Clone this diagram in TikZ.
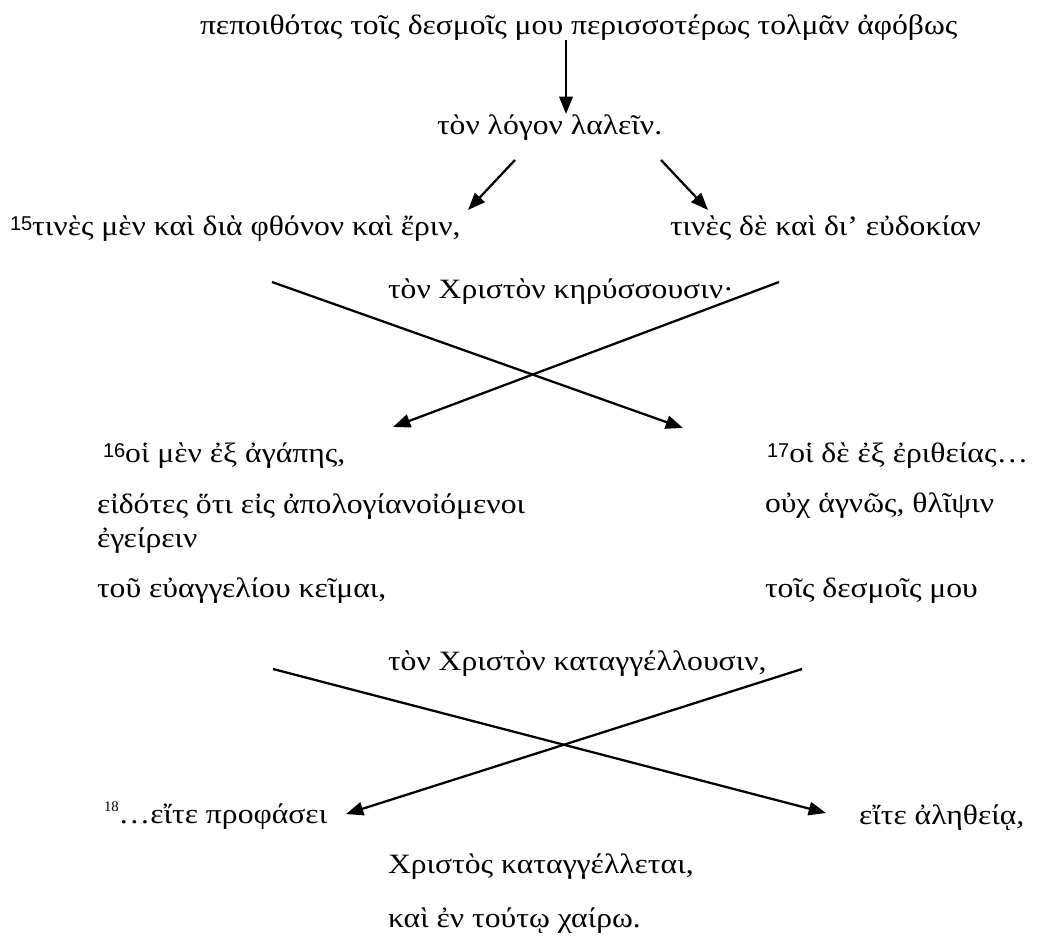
\documentclass[tikz,border=0pt]{standalone}
\usepackage{fontspec}
\setmainfont{Liberation Serif}[FakeStretch=1.13]
\newfontfamily\supsans{Liberation Sans}
\newfontfamily\supserif{Liberation Serif}
\usetikzlibrary{arrows.meta}
\tikzset{
  txt/.style={anchor=base west, inner sep=0pt, outer sep=0pt, font=\fontsize{21}{24}\selectfont},
  arr/.style={line width=1.7pt, -{Triangle[length=13pt,width=10pt]}},
}
\newcommand{\vs}[1]{\raisebox{3.75pt}{\supsans\fontsize{15}{16}\selectfont #1}}
\newcommand{\vsr}[1]{\raisebox{9pt}{\supserif\fontsize{11}{12}\selectfont #1}}
\begin{document}
\begin{tikzpicture}[x=0.75pt,y=-0.75pt]
\useasboundingbox (0,0) rectangle (1044,938);
% texts
\node[txt] (l1) at (200,35) {πεποιθότας τοῖς δεσμοῖς μου περισσοτέρως τολμᾶν ἀφόβως};
\node[txt] (l2) at (437,134) {τὸν λόγον λαλεῖν.};
\node[txt] (l3a) at (10,235) {\vs{15}τινὲς μὲν καὶ διὰ φθόνον καὶ ἔριν,};
\node[txt] (l3b) at (670,235) {τινὲς δὲ καὶ δι’ εὐδοκίαν};
\node[txt] (l4) at (388,298) {τὸν Χριστὸν κηρύσσουσιν·};
\node[txt] (la1) at (103,462) {\vs{16}οἱ μὲν ἐξ ἀγάπης,};
\node[txt] (la2) at (97,513) {εἰδότες ὅτι εἰς ἀπολογίανοἰόμενοι};
\node[txt] (la3) at (97,547) {ἐγείρειν};
\node[txt] (la4) at (97,597) {τοῦ εὐαγγελίου κεῖμαι,};
\node[txt] (lb1) at (767,462) {\vs{17}οἱ δὲ ἐξ ἐριθείας…};
\node[txt] (lb2) at (765,512) {οὐχ ἁγνῶς, θλῖψιν};
\node[txt] (lb4) at (765,597) {τοῖς δεσμοῖς μου};
\node[txt] (l5) at (388,670) {τὸν Χριστὸν καταγγέλλουσιν,};
\node[txt] (l6a) at (104,823) {\vsr{18}…εἴτε προφάσει};
\node[txt] (l6b) at (859,824) {εἴτε ἀληθείᾳ,};
\node[txt] (l7) at (388,873) {Χριστὸς καταγγέλλεται,};
\node[txt] (l8) at (388,927) {καὶ ἐν τούτῳ χαίρω.};
% connector ends
\coordinate (a1s) at (566,40);  \coordinate (a1e) at (566,114);
\coordinate (a2s) at (515,160); \coordinate (a2e) at (468,210);
\coordinate (a3s) at (661,160); \coordinate (a3e) at (708,210);
\coordinate (c1s) at (272,282); \coordinate (c1e) at (683,428);
\coordinate (c2s) at (779,282); \coordinate (c2e) at (393,427);
\coordinate (c3s) at (273,669); \coordinate (c3e) at (826,813);
\coordinate (c4s) at (802,669); \coordinate (c4e) at (346,814);
\draw[arr] (a1s) -- (a1e);
\draw[arr] (a2s) -- (a2e);
\draw[arr] (a3s) -- (a3e);
\draw[arr] (c1s) -- (c1e);
\draw[arr] (c2s) -- (c2e);
\draw[arr] (c3s) -- (c3e);
\draw[arr] (c4s) -- (c4e);
\end{tikzpicture}
\end{document}
